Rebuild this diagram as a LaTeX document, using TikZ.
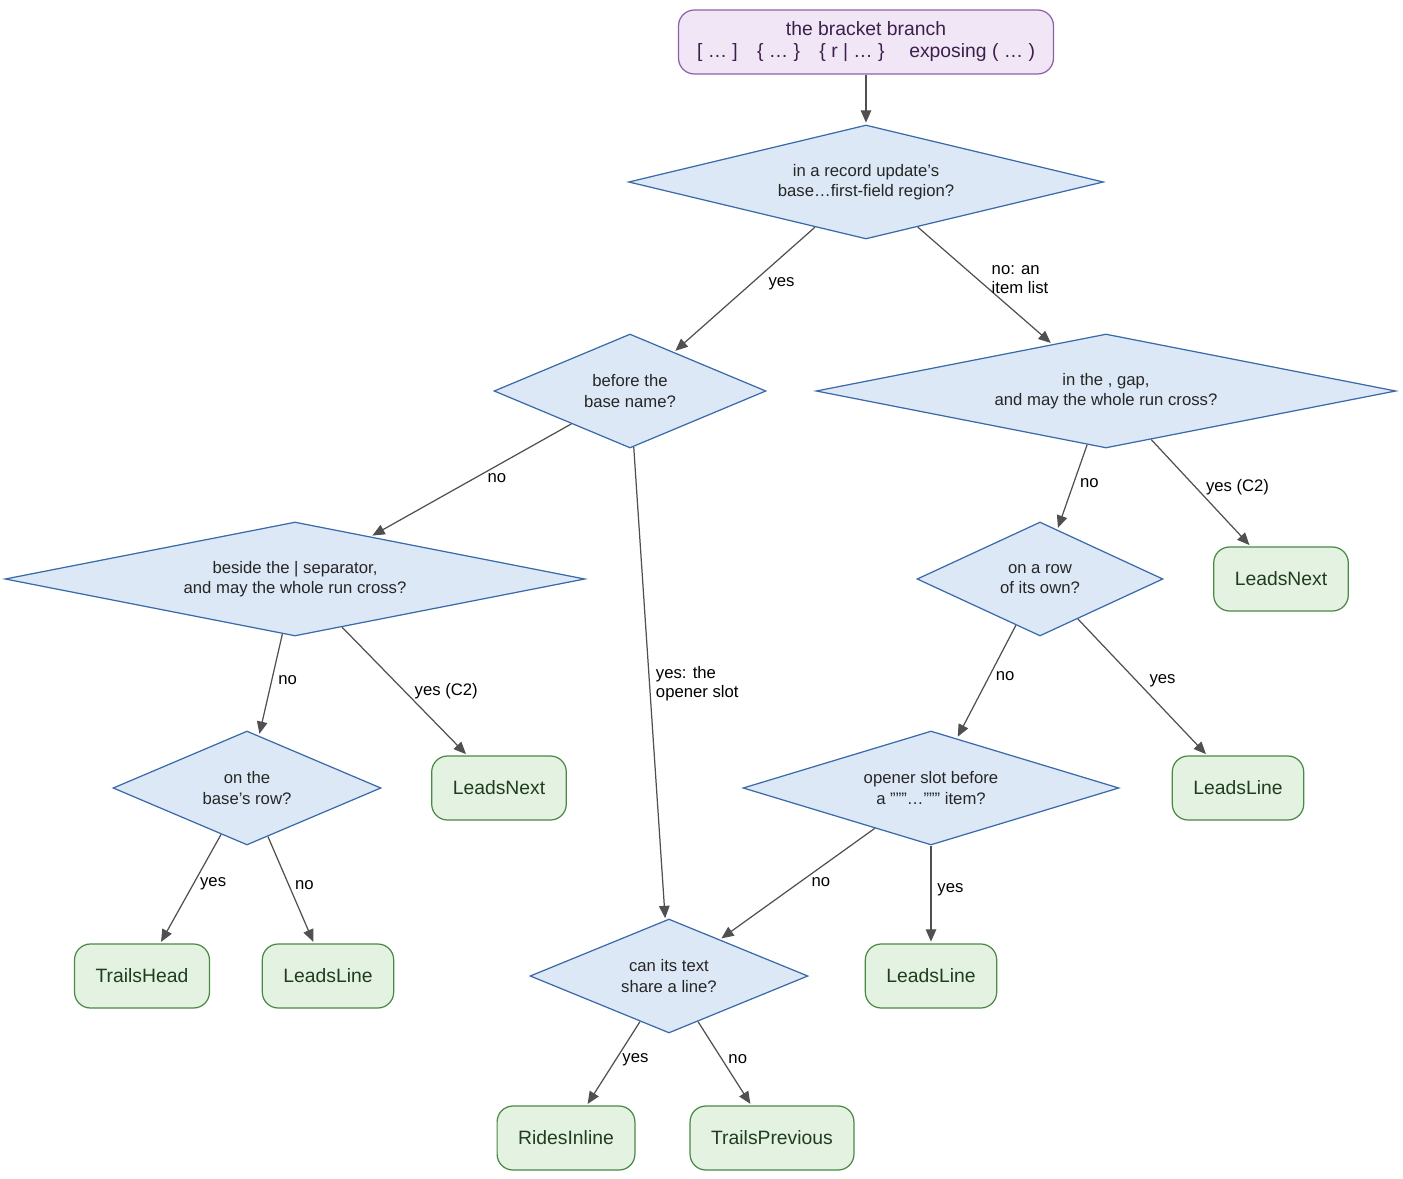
\documentclass[tikz,border=0pt]{standalone}
\usepackage{fontspec}
\setmainfont{Liberation Sans}
\usetikzlibrary{shapes.geometric}
\usetikzlibrary{arrows.meta}

\definecolor{rootfill}{HTML}{F0E6F5}
\definecolor{rootdraw}{HTML}{8E5FAA}
\definecolor{roottext}{HTML}{3D1F4D}
\definecolor{askfill}{HTML}{DCE8F5}
\definecolor{askdraw}{HTML}{3A6AAA}
\definecolor{leaffill}{HTML}{E4F2E1}
\definecolor{leafdraw}{HTML}{4A8A46}
\definecolor{leaftext}{HTML}{1F3D1F}
\definecolor{wire}{HTML}{505050}

\tikzset{
  root/.style={draw=rootdraw,fill=rootfill,text=roottext,rounded corners=9pt,line width=0.7pt,
    minimum width=7.5cm,minimum height=1.28cm,align=center,font=\fontsize{11}{12.5}\selectfont},
  ask/.style={diamond,draw=askdraw,fill=askfill,text=black!85,inner sep=0pt,line width=0.7pt,
    minimum height=2.28cm,align=center,font=\fontsize{9.5}{11.5}\selectfont},
  leaf/.style={draw=leafdraw,fill=leaffill,text=leaftext,rounded corners=9pt,line width=0.7pt,
    minimum height=1.28cm,inner xsep=12pt,font=\fontsize{11}{13}\selectfont},
  wire/.style={draw=wire,line width=0.7pt,-{Triangle[length=7pt,width=6pt]},shorten >=1pt},
  tag/.style={right,font=\fontsize{9.5}{11}\selectfont,align=left,text=black}
}

\begin{document}
\begin{tikzpicture}[x=0.02cm,y=-0.02cm]
        % page frame
        \useasboundingbox (0,0) rectangle (1403,1179);

        % the questions
        \node[root] (top) at (866,42) {the bracket branch\\{[ \dots\ ]}\quad\{ \dots\ \}\quad\{ r | \dots\ \}\quad\ exposing ( \dots\ )};
        \node[ask,aspect=4.17,minimum width=9.5cm] (update) at (866,182) {in a record update's\\base\dots first-field region?};
        \node[ask,aspect=2.39,minimum width=5.44cm] (base) at (630,391) {before the\\base name?};
        \node[ask,aspect=5.09,minimum width=11.6cm] (gap) at (1106,391) {in the , gap,\\and may the whole run cross?};
        \node[ask,aspect=5.09,minimum width=11.6cm] (sep) at (295,579) {beside the | separator,\\and may the whole run cross?};
        \node[ask,aspect=2.16,minimum width=4.92cm] (row) at (1040,579) {on a row\\of its own?};
        \node[ask,aspect=2.35,minimum width=5.36cm] (baserow) at (247,788) {on the\\base's row?};
        \node[ask,aspect=3.3,minimum width=7.52cm] (slot) at (931,788) {opener slot before\\a "{}"{}"\dots"{}"{}" item?};
        \node[ask,aspect=2.44,minimum width=5.56cm] (share) at (669,976) {can its text\\share a line?};

        % the answers
        \node[leaf] (nextA) at (1281,579) {LeadsNext};
        \node[leaf] (nextB) at (499,788) {LeadsNext};
        \node[leaf] (lineA) at (1238,788) {LeadsLine};
        \node[leaf] (head) at (142,976) {TrailsHead};
        \node[leaf] (lineB) at (328,976) {LeadsLine};
        \node[leaf] (lineC) at (931,976) {LeadsLine};
        \node[leaf] (inline) at (566,1138) {RidesInline};
        \node[leaf] (prev) at (772,1138) {TrailsPrevious};

        % the branches
        \draw[wire] (top) -- (update);
        \draw[wire] (update) -- node[tag,pos=0.45,xshift=6pt] {yes} (base);
        \draw[wire] (update) -- node[tag,pos=0.45,xshift=4pt] {no: an\\item list} (gap);
        \draw[wire] (base) -- node[tag,pos=0.45,yshift=-2pt] {no} (sep);
        \draw[wire] (base) -- node[tag,pos=0.5] {yes: the\\opener slot} (share);
        \draw[wire] (gap) -- node[tag,pos=0.45] {no} (row);
        \draw[wire] (gap) -- node[tag,pos=0.45,xshift=2pt] {yes (C2)} (nextA);
        \draw[wire] (sep) -- node[tag,pos=0.45] {no} (baserow);
        \draw[wire] (sep) -- node[tag,pos=0.5,xshift=2pt] {yes (C2)} (nextB);
        \draw[wire] (row) -- node[tag,pos=0.45] {no} (slot);
        \draw[wire] (row) -- node[tag,pos=0.45,xshift=4pt] {yes} (lineA);
        \draw[wire] (baserow) -- node[tag,pos=0.45] {yes} (head);
        \draw[wire] (baserow) -- node[tag,pos=0.45] {no} (lineB);
        \draw[wire] (slot) -- node[tag,pos=0.45,yshift=-2pt] {no} (share);
        \draw[wire] (slot) -- node[tag,pos=0.45] {yes} (lineC);
        \draw[wire] (share) -- node[tag,pos=0.45] {yes} (inline);
        \draw[wire] (share) -- node[tag,pos=0.45] {no} (prev);
\end{tikzpicture}
\end{document}
